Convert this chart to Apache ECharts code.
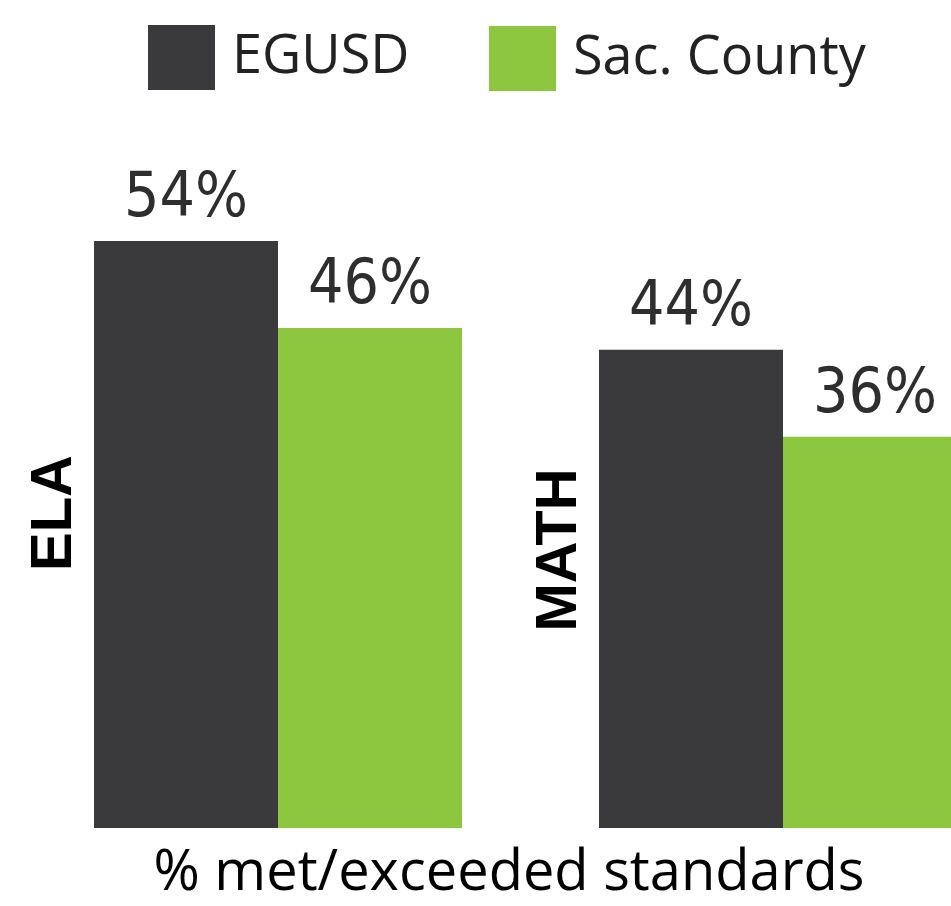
<!DOCTYPE html>
<html>
<head>
<meta charset="utf-8">
<script src="https://cdn.jsdelivr.net/npm/echarts@6/dist/echarts.min.js"></script>
<style>html,body{margin:0;padding:0;background:#fff;}#c{width:951px;height:906px;}</style>
</head>
<body>
<div id="c"></div>
<script>
var categories = ['ELA', 'MATH'];
var seriesNames = ['EGUSD', 'Sac. County'];
var egusdValues = [54, 44];
var sacCountyValues = [46, 36];
var axisTitle = '% met/exceeded standards';

var chart = echarts.init(document.getElementById('c'));
var labelStyle = {
  show: true, position: 'top', distance: 10,
  formatter: '{c}%',
  fontFamily: '"DejaVu Sans Condensed", "DejaVu Sans", sans-serif',
  fontWeight: 'normal',
  fontSize: 62, color: '#2e2e2e'
};
var legendText = { fontFamily: '"Open Sans", sans-serif', fontSize: 54, color: '#222', padding: [0,0,0,12] };
chart.setOption({
  animation: false,
  legend: [
    { data: [seriesNames[0]], left: 143, top: 20, itemWidth: 67, itemHeight: 65, icon: 'rect', textStyle: legendText },
    { data: [seriesNames[1]], left: 484, top: 21, itemWidth: 67, itemHeight: 65, icon: 'rect', textStyle: legendText }
  ],
  grid: { left: 278, right: 168, top: 121.4, bottom: 78, containLabel: false },
  xAxis: { type: 'category', data: categories, show: false, boundaryGap: false },
  yAxis: { type: 'value', min: 0, max: 65, show: false },
  graphic: [
    { type: 'text', x: 55, y: 513, rotation: Math.PI / 2, z: 100,
      style: { text: categories[0], fontFamily: '"Liberation Sans", Arial, sans-serif', fontWeight: 'bold', fontSize: 58, fill: '#000', textAlign: 'center', textVerticalAlign: 'middle' } },
    { type: 'text', x: 560, y: 550, rotation: Math.PI / 2, z: 100,
      style: { text: categories[1], fontFamily: '"Liberation Sans", Arial, sans-serif', fontWeight: 'bold', fontSize: 58, fill: '#000', textAlign: 'center', textVerticalAlign: 'middle' } },
    { type: 'text', x: 509, y: 874, z: 100,
      style: { text: axisTitle, fontFamily: '"Open Sans", sans-serif', fontSize: 56, fill: '#000', textAlign: 'center', textVerticalAlign: 'middle' } }
  ],
  series: [
    { name: seriesNames[0], type: 'bar', data: egusdValues, barWidth: 184, barGap: '0%', clip: false,
      itemStyle: { color: '#3a3a3c' }, label: labelStyle },
    { name: seriesNames[1], type: 'bar', data: sacCountyValues, barWidth: 184, clip: false,
      itemStyle: { color: '#8dc63f' }, label: labelStyle }
  ]
});
</script>
</body>
</html>
